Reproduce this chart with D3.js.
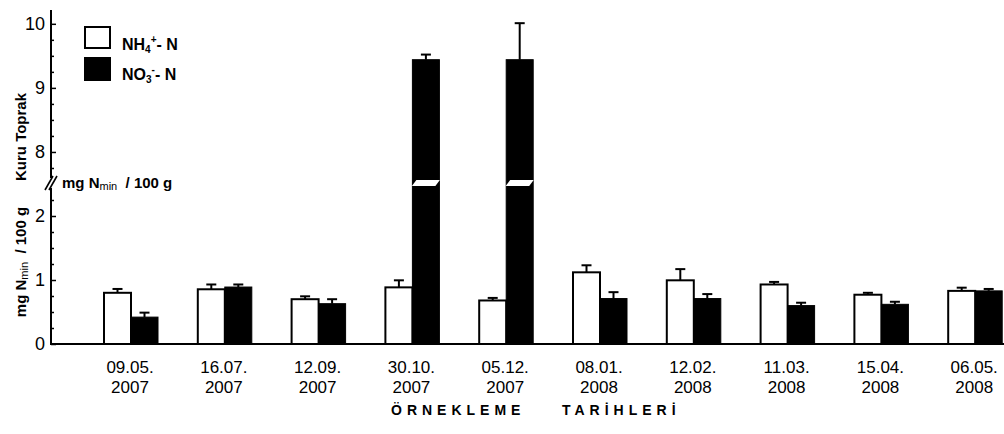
<!DOCTYPE html>
<html>
<head>
<meta charset="utf-8">
<script src="https://cdn.jsdelivr.net/npm/d3@7"></script>
<style>
  html, body { margin: 0; padding: 0; background: #fff; }
  svg { display: block; font-family: "Liberation Sans", Arial, sans-serif; }
</style>
</head>
<body>
<svg id="chart" width="1004" height="434"></svg>
<script>
// Sampling dates (day.month. / year)
const dates = ["09.05.", "16.07.", "12.09.", "30.10.", "05.12.", "08.01.", "12.02.", "11.03.", "15.04.", "06.05."];
const years = ["2007", "2007", "2007", "2007", "2007", "2008", "2008", "2008", "2008", "2008"];

// Mean mineral N (mg Nmin / 100 g dry soil) and standard errors
const nh4 = [0.80, 0.855, 0.70, 0.885, 0.68, 1.12, 0.995, 0.93, 0.77, 0.83];
const nh4Err = [0.06, 0.075, 0.045, 0.11, 0.04, 0.11, 0.175, 0.04, 0.03, 0.05];
const no3 = [0.42, 0.89, 0.63, 9.44, 9.44, 0.71, 0.71, 0.60, 0.62, 0.83];
const no3Err = [0.07, 0.04, 0.07, 0.08, 0.57, 0.10, 0.07, 0.045, 0.04, 0.03];

// Axis ticks for the two segments of the broken axis
const lowerTicks = [0, 1, 2];
const upperTicks = [8, 9, 10];

const svg = d3.select("#chart");
const keys = dates.map((d, i) => i);

const x = d3.scaleBand().domain(keys).range([84.1, 1022.1]).paddingInner(0).paddingOuter(0);
const barW = 27;

// Broken y axis: 2.5 .. 7.5 collapsed to one point
const yBreak = 183;
const y = d3.scaleLinear().domain([0, 2.5, 7.5, 10.2]).range([344, 184, 184, 11]);
const yLow = d3.scaleLinear().domain([0, 2.5]).range([344, 184]);
const yHigh = d3.scaleLinear().domain([7.5, 10.2]).range([184, 11]);

const axisX = 51;
const baseY = y(0);

// Y axis segments
function drawSegment(scale, ticks, minor, top, bottom) {
  const g = svg.append("g").attr("transform", `translate(${axisX},0)`);
  g.call(d3.axisLeft(scale).tickValues(minor).tickSizeInner(-3).tickSizeOuter(0).tickFormat(""));
  g.select(".domain").remove();
  const g2 = svg.append("g").attr("transform", `translate(${axisX},0)`);
  g2.call(d3.axisLeft(scale).tickValues(ticks).tickSizeInner(-5).tickSizeOuter(0).tickPadding(6).tickFormat(d3.format("d")));
  g2.select(".domain").remove();
  g2.selectAll("text").attr("font-size", 18).attr("font-family", "Liberation Sans, Arial, sans-serif").attr("fill", "#000");
  g.selectAll("line").attr("stroke", "#000").attr("stroke-width", 1.5);
  g2.selectAll("line").attr("stroke", "#000").attr("stroke-width", 1.5);
  svg.append("line").attr("x1", axisX).attr("x2", axisX).attr("y1", top).attr("y2", bottom)
    .attr("stroke", "#000").attr("stroke-width", 2);
}
drawSegment(yLow, lowerTicks, d3.range(0.25, 2.5, 0.25).filter(v => v % 1 !== 0), yBreak + 5, baseY);
drawSegment(yHigh, upperTicks, d3.range(7.75, 10.01, 0.25).filter(v => v % 1 !== 0), 10, yBreak - 5);

// Break marks on the axis
[-2, 2].forEach(dx => {
  svg.append("line")
    .attr("x1", axisX + dx - 4).attr("y1", yBreak + 7)
    .attr("x2", axisX + dx + 4).attr("y2", yBreak - 7)
    .attr("stroke", "#000").attr("stroke-width", 1.6);
});

// Label "mg Nmin / 100 g" with subscript
function unitLabel(sel) {
  sel.append("tspan").text("mg N");
  sel.append("tspan").attr("font-size", 11).attr("font-weight", "normal").attr("dy", 2).text("min");
  sel.append("tspan").attr("dy", -2).text("\u00a0 / 100 g");
}

const bl = svg.append("text").attr("x", 62).attr("y", 188)
  .attr("font-size", 15).attr("font-weight", "bold").attr("fill", "#000");
unitLabel(bl);

// Y axis titles (rotated)
const t1 = svg.append("text").attr("transform", "translate(26,262) rotate(-90)")
  .attr("text-anchor", "middle").attr("font-size", 15).attr("font-weight", "bold").attr("fill", "#000");
unitLabel(t1);

svg.append("text").attr("transform", "translate(26,137) rotate(-90)")
  .attr("text-anchor", "middle").attr("font-size", 15).attr("font-weight", "bold").attr("fill", "#000")
  .text("Kuru Toprak");

// Error bars
function errBar(cx, v, e) {
  const y0 = y(v), y1 = y(v + e);
  svg.append("line").attr("x1", cx).attr("x2", cx).attr("y1", y0).attr("y2", y1)
    .attr("stroke", "#000").attr("stroke-width", 2);
  svg.append("line").attr("x1", cx - 5).attr("x2", cx + 5).attr("y1", y1).attr("y2", y1)
    .attr("stroke", "#000").attr("stroke-width", 2);
}

keys.forEach(i => {
  const cx = x(i) + x.bandwidth() / 2;
  errBar(cx - barW / 2, nh4[i], nh4Err[i]);
  errBar(cx + barW / 2, no3[i], no3Err[i]);
});

// NH4 bars (white)
svg.append("g").selectAll("rect").data(keys).join("rect")
  .attr("x", i => x(i) + x.bandwidth() / 2 - barW)
  .attr("width", barW)
  .attr("y", i => y(nh4[i]))
  .attr("height", i => baseY - y(nh4[i]))
  .attr("fill", "#fff").attr("stroke", "#000").attr("stroke-width", 2);

// NO3 bars (black)
svg.append("g").selectAll("rect").data(keys).join("rect")
  .attr("x", i => x(i) + x.bandwidth() / 2)
  .attr("width", barW)
  .attr("y", i => y(no3[i]))
  .attr("height", i => baseY - y(no3[i]))
  .attr("fill", "#000").attr("stroke", "#000").attr("stroke-width", 1);

// Break gap through bars that cross the axis break
keys.filter(i => no3[i] > 2.5).forEach(i => {
  const xl = x(i) + x.bandwidth() / 2, xr = xl + barW;
  svg.append("polygon")
    .attr("points", [[xl - 0.5, yBreak + 3], [xl + 4, yBreak - 3], [xr + 0.5, yBreak - 3], [xr - 4, yBreak + 3]].map(p => p.join(",")).join(" "))
    .attr("fill", "#fff");
});

// X axis baseline
svg.append("line").attr("x1", axisX - 1).attr("x2", 1004).attr("y1", baseY).attr("y2", baseY)
  .attr("stroke", "#000").attr("stroke-width", 2);

// X tick labels (two lines)
const xl = svg.append("g").selectAll("text").data(keys).join("text")
  .attr("text-anchor", "middle").attr("font-size", 17).attr("fill", "#000")
  .attr("transform", i => `translate(${x(i) + x.bandwidth() / 2 - 1},0)`);
xl.append("tspan").attr("x", 0).attr("y", 373).text(i => dates[i]);
xl.append("tspan").attr("x", 0).attr("y", 393).text(i => years[i]);

// X axis title
svg.append("text").attr("x", 391).attr("y", 415).attr("font-size", 14).attr("font-weight", "bold")
  .attr("letter-spacing", "5px").attr("fill", "#000").text("ÖRNEKLEME");
svg.append("text").attr("x", 562).attr("y", 415).attr("font-size", 14).attr("font-weight", "bold")
  .attr("letter-spacing", "5px").attr("fill", "#000").text("TARİHLERİ");

// Legend
svg.append("rect").attr("x", 85).attr("y", 27).attr("width", 25).attr("height", 21)
  .attr("fill", "#fff").attr("stroke", "#000").attr("stroke-width", 2);
svg.append("rect").attr("x", 84).attr("y", 57).attr("width", 27).attr("height", 24)
  .attr("fill", "#000");
function legendLabel(yPos, base, sub, sup) {
  const t = svg.append("text").attr("x", 122).attr("y", yPos).attr("font-size", 16).attr("font-weight", "bold").attr("fill", "#000");
  t.append("tspan").text(base);
  t.append("tspan").attr("font-size", 10).attr("dy", 3).text(sub);
  t.append("tspan").attr("font-size", 10).attr("dy", -10).text(sup);
  t.append("tspan").attr("dy", 7).text("- N");
}
legendLabel(50, "NH", "4", "+");
legendLabel(80, "NO", "3", "-");
</script>
</body>
</html>
